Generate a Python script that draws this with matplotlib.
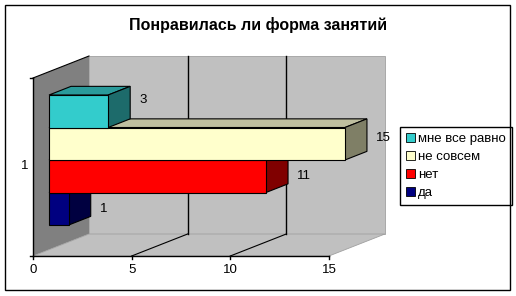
import matplotlib.pyplot as plt
from matplotlib.patches import Polygon, Rectangle, Patch

# data
categories = ['да', 'нет', 'не совсем', 'мне все равно']
values = [1, 11, 15, 3]
front_colors = ['#000080', '#FF0000', '#FFFFCC', '#33CCCC']
top_colors = ['#000060', '#C00000', '#BFBF9F', '#2A9A9A']
side_colors = ['#000040', '#800000', '#7F7F66', '#1D6B6B']
ticks = [0, 5, 10, 15]
group_label = '1'
title = 'Понравилась ли форма занятий'

plt.rcParams['font.family'] = ['Liberation Sans', 'DejaVu Sans']

W, H, DPI = 516, 296, 100
fig = plt.figure(figsize=(W / DPI, H / DPI), dpi=DPI)
ax = fig.add_axes([0, 0, 1, 1])
px = 19.73          # pixels per value unit
x0, y0 = 33, 256    # origin on the picture
ax.set_xlim(-x0 / px, (W - x0) / px)
ax.set_ylim(-(H - y0) / px, y0 / px)
ax.axis('off')

xmax = max(ticks)
DX, DY = 56 / px, 22 / px       # depth of the 3d box
WH = 178 / px                   # wall height

# walls and floor
ax.add_patch(Polygon([(0, 0), (0, WH), (DX, WH + DY), (DX, DY)],
                     closed=True, fc='#808080', ec='none', zorder=1))
ax.add_patch(Rectangle((DX, DY), xmax, WH, fc='#C0C0C0', ec='#A0A0A0', lw=0.6, zorder=1))
ax.add_patch(Polygon([(0, 0), (xmax, 0), (xmax + DX, DY), (DX, DY)],
                     closed=True, fc='#C0C0C0', ec='#A0A0A0', lw=0.6, zorder=1))
for t in ticks[1:-1]:
    ax.plot([t + DX, t + DX], [DY, WH + DY], color='black', lw=1, zorder=2)
    ax.plot([t, t + DX], [0, DY], color='black', lw=0.8, zorder=2)
ax.plot([0, 0], [0, WH], color='black', lw=1, zorder=3)
ax.plot([0, DX], [WH, WH + DY], color='black', lw=0.8, zorder=3)
ax.plot([0, xmax], [0, 0], color='black', lw=1, zorder=3)
tk = 3 / px
ax.plot([-tk, 0], [WH, WH], color='black', lw=1, zorder=3)
ax.plot([-tk, 0], [0, 0], color='black', lw=1, zorder=3)
for t in ticks:
    ax.plot([t, t], [0, -tk], color='black', lw=1, zorder=3)
    ax.text(t, -14 / px, str(t), ha='center', va='center', fontsize=9.5)
ax.text(-8 / px, 90 / px, group_label, ha='center', va='center', fontsize=9.5)

# bars
f0, fd = 16 / 56, 22 / 56
ox, oy = f0 * DX, f0 * DY
ddx, ddy = fd * DX, fd * DY
bh = 32.5 / px
yb0 = 31 / px - oy
label_shift = [0, 0, 6, 11]
for i, (v, fc, tc, sc) in enumerate(zip(values, front_colors, top_colors, side_colors)):
    yb = yb0 + i * bh + oy
    yt = yb + bh
    z = 5 + i
    ax.add_patch(Polygon([(ox, yt), (ox + v, yt), (ox + v + ddx, yt + ddy), (ox + ddx, yt + ddy)],
                         closed=True, fc=tc, ec='black', lw=0.8, zorder=z))
    ax.add_patch(Polygon([(ox + v, yb), (ox + v + ddx, yb + ddy), (ox + v + ddx, yt + ddy), (ox + v, yt)],
                         closed=True, fc=sc, ec='black', lw=0.8, zorder=z))
    ax.add_patch(Rectangle((ox, yb), v, bh, fc=fc, ec='black', lw=0.8, zorder=z))
    ax.text(ox + v + ddx + 9 / px, (yb + yt) / 2 + label_shift[i] / px, str(v),
            ha='left', va='center', fontsize=9.5, zorder=20)

# legend
handles = [Patch(fc=c, ec='black', lw=0.6, label=l)
           for l, c in zip(categories[::-1], front_colors[::-1])]
leg = ax.legend(handles=handles, loc='upper left', bbox_to_anchor=(400 / W, 1 - 127 / H),
                bbox_transform=fig.transFigure, borderaxespad=0, fancybox=False,
                framealpha=1, edgecolor='black', fontsize=9.5, handlelength=0.65,
                handleheight=0.65, handletextpad=0.25, labelspacing=0.45, borderpad=0.45)
leg.get_frame().set_linewidth(1)

fig.text(258 / W, 1 - 25 / H, title, ha='center', va='center', fontsize=11.5, fontweight='bold')
fig.patches.append(Rectangle((5 / W, 1 - 290 / H), 505 / W, 285 / H, transform=fig.transFigure,
                             fill=False, ec='black', lw=1))

fig.savefig('out.png', dpi=DPI)
